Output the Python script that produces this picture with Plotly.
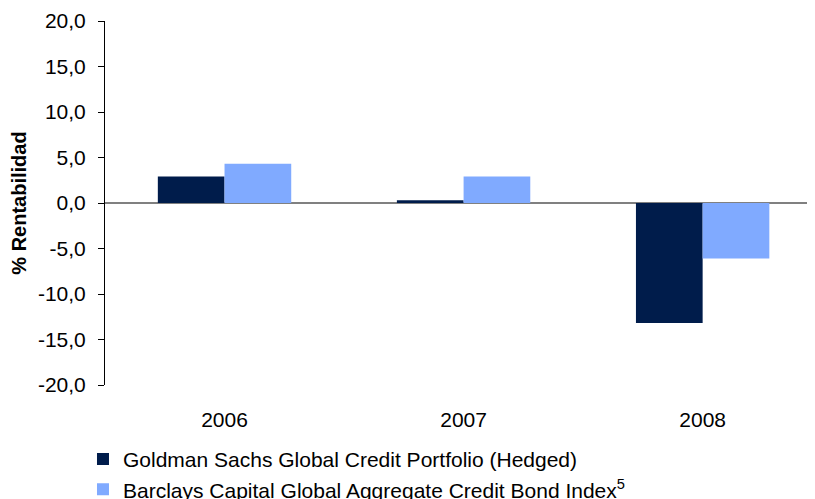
import plotly.graph_objects as go

# Data
years = ["2006", "2007", "2008"]
gs_credit = [2.9, 0.3, -13.2]
barclays_index = [4.3, 2.9, -6.1]
series_names = [
    "Goldman Sachs Global Credit Portfolio (Hedged)",
    "Barclays Capital Global Aggregate Credit Bond Index<sup>5</sup>",
]
y_ticks = [20, 15, 10, 5, 0, -5, -10, -15, -20]
y_tick_labels = ["20,0", "15,0", "10,0", "5,0", "0,0", "-5,0", "-10,0", "-15,0", "-20,0"]

fig = go.Figure()
fig.add_trace(go.Bar(x=years, y=gs_credit, name=series_names[0], legendgroup="a",
                     marker=dict(color="#001C4B", line=dict(width=0))))
fig.add_trace(go.Bar(x=years, y=barclays_index, name=series_names[1], legendgroup="b",
                     marker=dict(color="#80AAFF", line=dict(width=0))))

# page body has an 8px margin, so the figure is sized 8px smaller and shifted
fig.update_layout(
    width=807, height=491,
    margin=dict(l=97, r=0, t=13, b=114, autoexpand=False),
    plot_bgcolor="white", paper_bgcolor="white",
    font=dict(family="Liberation Sans, Arial, sans-serif", size=21, color="black"),
    barmode="group", bargap=0.442, bargroupgap=0,
    showlegend=True,
    legend=dict(orientation="v", x=-0.031, xanchor="left", y=-0.148, yanchor="top",
                font=dict(size=21), tracegroupgap=0, itemwidth=30,
                bgcolor="rgba(0,0,0,0)"),
)
fig.update_xaxes(range=[-0.5, 2.47], showline=False, ticks="", showgrid=False,
                 zeroline=False, tickfont=dict(size=21), automargin=False,
                 ticklabelstandoff=20)
fig.update_yaxes(
    range=[-20, 20], tickvals=y_ticks, ticktext=y_tick_labels,
    showline=True, linecolor="black", linewidth=1,
    ticks="outside", ticklen=6, tickcolor="black", showgrid=False,
    zeroline=True, zerolinecolor="#808080", zerolinewidth=2,
    title=dict(text="<b>% Rentabilidad</b>", font=dict(size=20), standoff=5),
    tickfont=dict(size=21), automargin=False, ticklabelstandoff=8,
)

fig.write_html("out.html")
